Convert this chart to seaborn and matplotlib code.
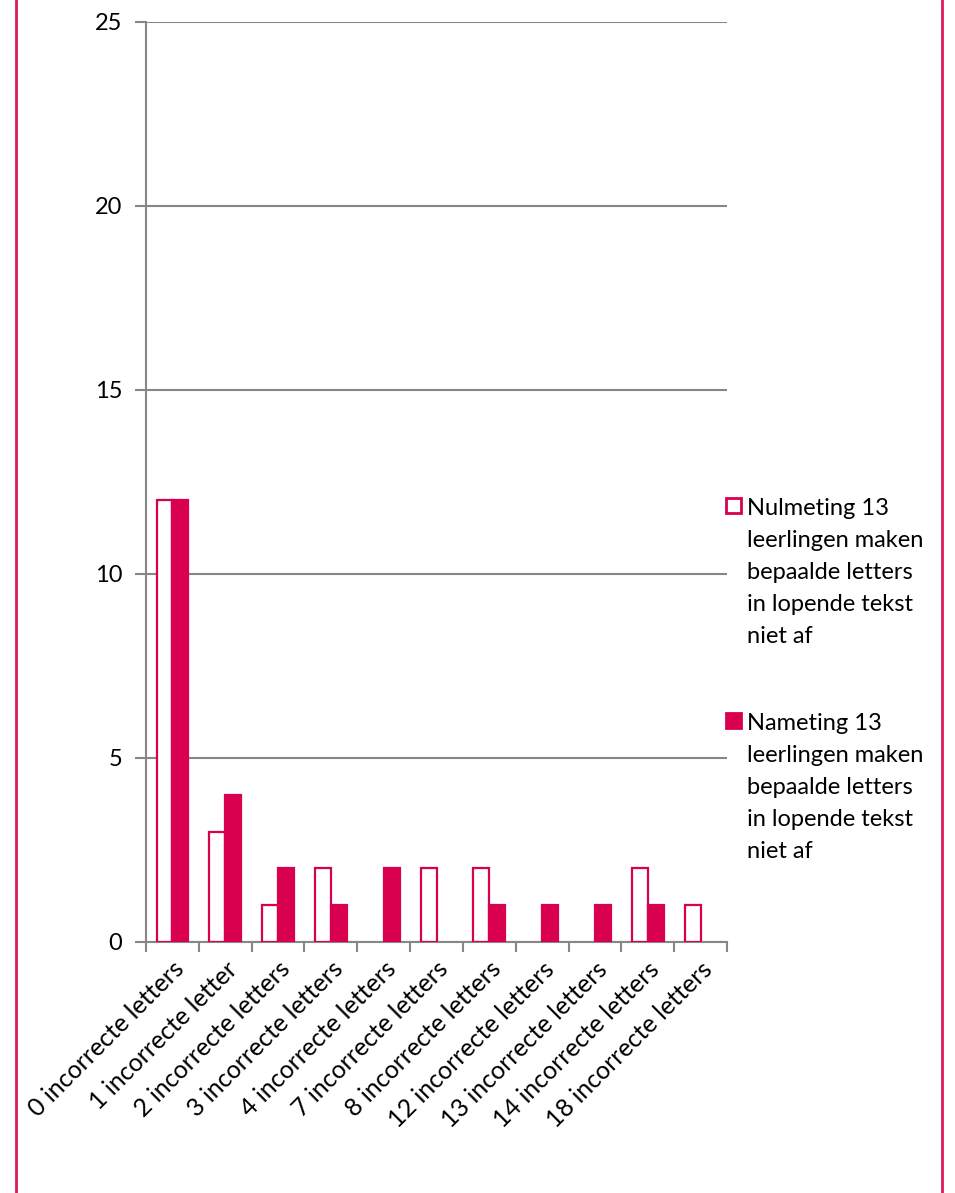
import numpy as np
import pandas as pd
import matplotlib
matplotlib.use("Agg")
import matplotlib.pyplot as plt
from matplotlib.patches import Rectangle
from matplotlib.lines import Line2D
import seaborn as sns

categories = ["0 incorrecte letters", "1 incorrecte letter", "2 incorrecte letters",
              "3 incorrecte letters", "4 incorrecte letters", "7 incorrecte letters",
              "8 incorrecte letters", "12 incorrecte letters", "13 incorrecte letters",
              "14 incorrecte letters", "18 incorrecte letters"]
nulmeting = [12, 3, 1, 2, 0, 2, 2, 0, 0, 2, 1]
nameting = [12, 4, 2, 1, 2, 0, 1, 1, 1, 1, 0]
series_names = ["Nulmeting 13\nleerlingen maken\nbepaalde letters\nin lopende tekst\nniet af",
                "Nameting 13\nleerlingen maken\nbepaalde letters\nin lopende tekst\nniet af"]
yticks = [0, 5, 10, 15, 20, 25]

PINK = "#D9004F"
GRID = "#878787"
W, H = 955, 1193

sns.set_theme(style="white")
plt.rcParams['font.family'] = ['Lato', 'DejaVu Sans']

df = pd.DataFrame({
    "cat": categories * 2,
    "val": nulmeting + nameting,
    "series": [series_names[0]] * len(categories) + [series_names[1]] * len(categories),
})

fig = plt.figure(figsize=(W/100, H/100), dpi=100)
ax = fig.add_axes([146/W, 1-942/H, (727-146)/W, (942-22)/H])

sns.barplot(data=df, x="cat", y="val", hue="series", order=categories,
            hue_order=series_names, palette=["white", PINK], width=0.6,
            saturation=1, ax=ax, legend=False, zorder=3)
for p in ax.patches:
    p.set_edgecolor(PINK)
    p.set_linewidth(1.6)
    if p.get_height() == 0:
        p.set_visible(False)

ax.set_ylim(0, 25)
ax.set_xlim(-0.5, len(categories) - 0.5)
ax.set_yticks(yticks)
ax.yaxis.grid(True, color=GRID, linewidth=1.5, zorder=0)
ax.set_axisbelow(True)
ax.set_xlabel("")
ax.set_ylabel("")

for s in ["top", "right"]:
    ax.spines[s].set_visible(False)
for s in ["left", "bottom"]:
    ax.spines[s].set_color(GRID)
    ax.spines[s].set_linewidth(1.5)

ax.set_xticks(range(len(categories)))
ax.set_xticklabels(categories, rotation=45, ha="right", rotation_mode="anchor",
                   fontsize=18)
ax.set_xticks(np.arange(-0.5, len(categories), 1), minor=True)
ax.tick_params(axis="x", which="major", length=0, pad=11)
ax.tick_params(axis="x", which="minor", length=7, width=1.5, color=GRID, bottom=True)
ax.tick_params(axis="y", length=8, width=1.5, color=GRID, left=True, pad=9, labelsize=17,
               labelcolor="black")
ax.tick_params(axis="x", labelcolor="black")

# legend (square marker aligned with first text line)
entry_tops = [498, 713]
faces = ["white", PINK]
for top, face, name in zip(entry_tops, faces, series_names):
    fig.add_artist(Rectangle((726/W, 1-(top+15)/H), 15/W, 15/H,
                             transform=fig.transFigure, facecolor=face,
                             edgecolor=PINK, linewidth=2))
    n_lines = name.count("\n")
    fig.text(747/W, 1-(top+17+32*n_lines)/H, name, fontsize=17, va="baseline",
             ha="left", linespacing=1.65, color="black")

for x in [16/W, 942/W]:
    fig.add_artist(Line2D([x, x], [0, 1], transform=fig.transFigure,
                          color="#E0185E", linewidth=2))

fig.savefig("out.png", dpi=100, facecolor="white")
